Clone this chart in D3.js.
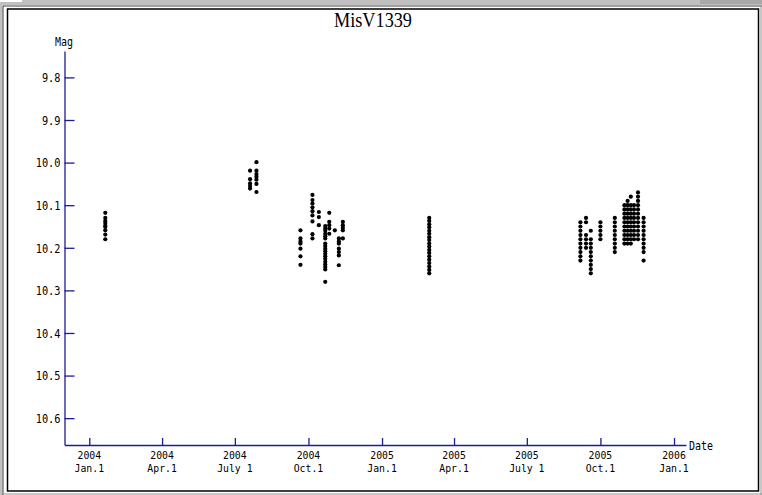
<!DOCTYPE html>
<html>
<head>
<meta charset="utf-8">
<script src="https://cdn.jsdelivr.net/npm/d3@7"></script>
<style>
  html, body { margin: 0; padding: 0; background: #ffffff; }
  svg { display: block; }
</style>
</head>
<body>
<script>
// ---------- data ----------
const chartTitle = "MisV1339";
const yLabel = "Mag";
const xLabel = "Date";

const magTicks = [9.8, 9.9, 10.0, 10.1, 10.2, 10.3, 10.4, 10.5, 10.6];

const dateTicks = ["2004-01-01","2004-04-01","2004-07-01","2004-10-01","2005-01-01",
                   "2005-04-01","2005-07-01","2005-10-01","2006-01-01"];
const tickYears = ["2004","2004","2004","2004","2005","2005","2005","2005","2006"];
const tickDays  = ["Jan.1","Apr.1","July 1","Oct.1","Jan.1","Apr.1","July 1","Oct.1","Jan.1"];

// observation nights (dates) and magnitudes measured on each night
const nightDates = [
  "2004-01-21",
  "2004-07-20","2004-07-28",
  "2004-09-21","2004-10-06","2004-10-14","2004-10-22","2004-10-27","2004-11-03","2004-11-08","2004-11-13",
  "2005-03-01",
  "2005-09-06","2005-09-13","2005-09-19","2005-10-01","2005-10-19",
  "2005-10-31","2005-11-04","2005-11-08","2005-11-12","2005-11-17","2005-11-24"
];
const nightMags = [
  [10.118,10.130,10.137,10.142,10.148,10.151,10.159,10.169,10.180],
  [10.019,10.039,10.049,10.055,10.061],
  [9.999,10.019,10.027,10.033,10.040,10.050,10.069],
  [10.159,10.178,10.185,10.190,10.202,10.220,10.240],
  [10.076,10.088,10.096,10.105,10.114,10.124,10.138,10.168,10.178],
  [10.116,10.128,10.147],
  [10.149,10.155,10.160,10.167,10.173,10.178,10.190,10.196,10.202,10.208,10.214,10.220,10.226,10.233,10.239,10.245,10.251,10.280],
  [10.118,10.139,10.147,10.155,10.167],
  [10.159],
  [10.178,10.185,10.190,10.202,10.210,10.218,10.241],
  [10.139,10.147,10.153,10.159,10.178],
  [10.130,10.137,10.145,10.152,10.160,10.167,10.175,10.182,10.190,10.197,10.205,10.212,10.220,10.228,10.236,10.244,10.252,10.260],
  [10.140,10.150,10.160,10.170,10.180,10.190,10.200,10.210,10.220,10.230],
  [10.130,10.140,10.170,10.180,10.190,10.200],
  [10.160,10.180,10.190,10.200,10.210,10.220,10.230,10.240,10.250,10.260],
  [10.140,10.150,10.160,10.170,10.180],
  [10.130,10.140,10.150,10.160,10.170,10.180,10.190,10.200,10.210],
  [10.100,10.110,10.120,10.130,10.140,10.150,10.160,10.170,10.180,10.190],
  [10.090,10.100,10.110,10.120,10.130,10.140,10.150,10.160,10.170,10.180,10.190],
  [10.080,10.100,10.110,10.120,10.130,10.140,10.150,10.160,10.170,10.180,10.190],
  [10.100,10.110,10.120,10.130,10.140,10.150,10.160,10.170,10.180],
  [10.070,10.080,10.090,10.100,10.110,10.120,10.130,10.140,10.150,10.160,10.170,10.180],
  [10.130,10.140,10.150,10.160,10.170,10.180,10.190,10.200,10.210,10.230]
];

// ---------- drawing ----------
const W = 762, H = 495;
const parse = d3.utcParse("%Y-%m-%d");
const points = [];
nightDates.forEach((d, i) => nightMags[i].forEach(m => points.push({date: parse(d), mag: m})));

const svg = d3.select("body").append("svg").attr("width", W).attr("height", H);

// window frame
svg.append("rect").attr("x", 0).attr("y", 0).attr("width", W).attr("height", 5).attr("fill", "#c0c0c0");
svg.append("rect").attr("x", 0).attr("y", 0).attr("width", 2.5).attr("height", H).attr("fill", "#c0c0c0");
svg.append("rect").attr("x", 0).attr("y", 0).attr("width", 22).attr("height", 2).attr("fill", "#ffffff");
svg.append("rect").attr("x", 700).attr("y", 0).attr("width", 62).attr("height", 4).attr("fill", "#a8a8a8");
svg.append("line").attr("x1", 3).attr("x2", 3).attr("y1", 6).attr("y2", H).attr("stroke", "#404040").attr("stroke-width", 1);
svg.append("line").attr("x1", 3).attr("x2", W).attr("y1", 6).attr("y2", 6).attr("stroke", "#404040").attr("stroke-width", 1);
svg.append("line").attr("x1", 761).attr("x2", 761).attr("y1", 6).attr("y2", H).attr("stroke", "#909090").attr("stroke-width", 1);
svg.append("line").attr("x1", 3).attr("x2", W).attr("y1", 494).attr("y2", 494).attr("stroke", "#909090").attr("stroke-width", 1);
svg.append("rect").attr("x", 7.5).attr("y", 9).attr("width", 751).attr("height", 482)
   .attr("fill", "#ffffff").attr("stroke", "#000000").attr("stroke-width", 1.5);

const x = d3.scaleUtc().domain([parse("2003-12-01"), parse("2006-01-16")]).range([64.5, 686]);
const y = d3.scaleLinear().domain([9.738, 10.663]).range([51, 445]);

const axisColor = "#1c1c96";
const monoFont = "'DejaVu Sans Mono', 'Liberation Mono', monospace";
const charW = 5.9;

// title
svg.append("text").attr("x", 373).attr("y", 27).attr("text-anchor", "middle")
   .attr("font-family", "'Liberation Serif', 'DejaVu Serif', serif").attr("font-size", 21)
   .attr("textLength", 78).attr("lengthAdjust", "spacingAndGlyphs")
   .attr("fill", "#000").text(chartTitle);

// y axis
const gy = svg.append("g").attr("transform", "translate(64.5,0)")
  .call(d3.axisLeft(y).tickValues(magTicks).tickSize(-10).tickSizeOuter(0).tickPadding(4)
        .tickFormat(d3.format(".1f")));
gy.select(".domain").attr("stroke", axisColor).attr("stroke-width", 1.3);
gy.selectAll(".tick line").attr("stroke", axisColor).attr("stroke-width", 1.3);
gy.selectAll(".tick text").attr("font-family", monoFont).attr("font-size", 12).attr("fill", "#000")
  .attr("dy", "0.36em")
  .attr("textLength", function() { return this.textContent.length * 6.2; })
  .attr("lengthAdjust", "spacingAndGlyphs");

svg.append("text").attr("x", 64).attr("y", 46).attr("text-anchor", "middle")
   .attr("font-family", monoFont).attr("font-size", 11.5).attr("fill", "#000")
   .attr("textLength", 18).attr("lengthAdjust", "spacingAndGlyphs").text(yLabel);

// x axis
const tickDatesParsed = dateTicks.map(parse);
const gx = svg.append("g").attr("transform", "translate(0,445)")
  .call(d3.axisBottom(x).tickValues(tickDatesParsed).tickSize(-7).tickSizeOuter(0).tickFormat(""));
gx.select(".domain").attr("stroke", axisColor).attr("stroke-width", 1.3);
gx.selectAll(".tick line").attr("stroke", axisColor).attr("stroke-width", 1.3);
gx.selectAll(".tick text").remove();

const lbl = svg.append("g").attr("font-family", monoFont).attr("font-size", 10.5).attr("fill", "#000")
  .attr("text-anchor", "middle");
tickDatesParsed.forEach((d, i) => {
  lbl.append("text").attr("x", x(d)).attr("y", 459)
     .attr("textLength", tickYears[i].length * charW).attr("lengthAdjust", "spacingAndGlyphs")
     .text(tickYears[i]);
  lbl.append("text").attr("x", x(d)).attr("y", 471.5)
     .attr("textLength", tickDays[i].length * charW).attr("lengthAdjust", "spacingAndGlyphs")
     .text(tickDays[i]);
});

svg.append("text").attr("x", 689).attr("y", 449.5)
   .attr("font-family", monoFont).attr("font-size", 12).attr("fill", "#000")
   .attr("textLength", 24).attr("lengthAdjust", "spacingAndGlyphs").text(xLabel);

// points
svg.append("g").selectAll("circle").data(points).join("circle")
  .attr("cx", d => x(d.date)).attr("cy", d => y(d.mag)).attr("r", 2.1).attr("fill", "#000");
</script>
</body>
</html>
